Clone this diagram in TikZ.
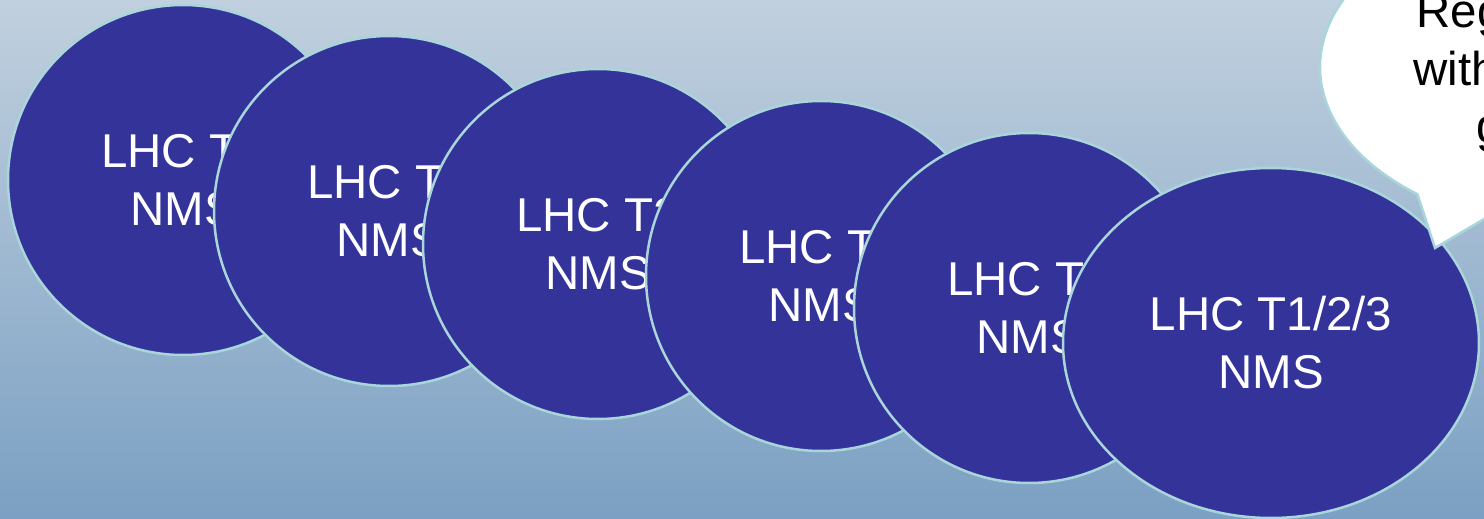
\documentclass[tikz,border=0pt]{standalone}
\usepackage{fontspec}
\setmainfont{Liberation Sans}
\usepackage{tikz}
\usetikzlibrary{shapes.geometric}

\definecolor{bgtop}{RGB}{193,208,222}
\definecolor{bgbot}{RGB}{123,160,195}
\definecolor{nmsblue}{RGB}{52,51,153}
\definecolor{rimcyan}{RGB}{168,214,218}

\begin{document}
\begin{tikzpicture}[x=0.1mm, y=-0.1mm,
    every node/.style={font=\fontsize{13.5pt}{16.5pt}\selectfont, inner sep=0pt},
    nmsbox/.style={ellipse, draw=rimcyan, line width=0.25mm, fill=nmsblue,
      text=white, align=center, minimum width=35mm, minimum height=35mm},
    bubbletext/.style={anchor=base west, text=black}]
    % Hintergrund
    \clip (0,0) rectangle (1484,519);
    \shade[top color=bgtop, bottom color=bgbot] (0,0) rectangle (1484,519);

    % NMS-Ellipsen, jede deckt die vorige teilweise ab
    \node[nmsbox] (nms1) at (183,180) {LHC T1\\NMS};
    \node[nmsbox] (nms2) at (389,211) {LHC T1\\NMS};
    \node[nmsbox] (nms3) at (598,244) {LHC T2\\NMS};
    \node[nmsbox] (nms4) at (821,276) {LHC T2\\NMS};
    \node[nmsbox] (nms5) at (1029,308) {LHC T3\\NMS};
    \node[nmsbox, minimum width=41.6mm] (nms6) at (1271,343) {LHC T1/2/3\\NMS};

    % Sprechblase oben rechts
    \filldraw[fill=white, draw=rimcyan, line width=0.25mm]
      (1435,248) -- (1484.7,218.7)
      arc[start angle=111.5, end angle=-231.3, x radius=260, y radius=163] -- cycle;
    \node[bubbletext] (reg) at (1416,28) {Reg};
    \node[bubbletext] (with) at (1413,85) {with};
    \node[bubbletext] (gtxt) at (1476,143) {g};
\end{tikzpicture}
\end{document}
